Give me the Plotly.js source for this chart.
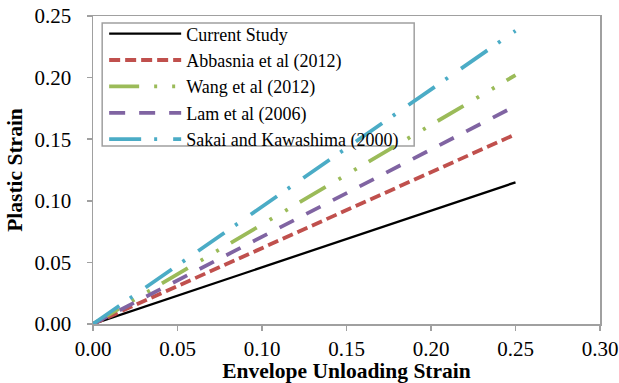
<!DOCTYPE html>
<html>
<head>
<meta charset="utf-8">
<script src="https://cdn.plot.ly/plotly-3.0.1.min.js"></script>
<style>
html,body{margin:0;padding:0;background:#fff;}
#chart{width:619px;height:383px;}
</style>
</head>
<body>
<div id="chart"></div>
<script>
// Data
const seriesNames = ["Current Study", "Abbasnia et al (2012)", "Wang et al (2012)", "Lam et al (2006)", "Sakai and Kawashima (2000)"];
const xStrain = [0.0, 0.25];
const currentStudy = [0.0, 0.115];
const abbasnia = [0.0, 0.154];
const wang = [0.0, 0.202];
const lam = [0.0, 0.177];
const sakai = [0.0, 0.238];
const xTicks = [0.00, 0.05, 0.10, 0.15, 0.20, 0.25, 0.30];
const yTicks = [0.00, 0.05, 0.10, 0.15, 0.20, 0.25];

const colors = ["#000000", "#c0504d", "#9bbb59", "#8064a2", "#4bacc6"];
const dashes = ["solid", "11px,5px", "30px,15px,3px,15px,3px,14px", "16px,14px", "32px,13px,3px,16px"];
const widths = [2.3, 3.8, 3.8, 3.8, 3.8];
const ys = [currentStudy, abbasnia, wang, lam, sakai];

const traces = ys.map((y, i) => ({
  type: "scatter",
  mode: "lines",
  x: xStrain,
  y: y,
  name: seriesNames[i],
  line: {color: colors[i], width: widths[i], dash: dashes[i]}
}));

const fmt = v => v.toFixed(2);
const axisColor = "#a0a0a0";
const serif = "Liberation Serif, Times New Roman, serif";
const tickFont = {family: serif, size: 21, color: "#000"};
const titleFont = {family: serif, size: 21.5, color: "#000", weight: "bold"};

const layout = {
  width: 619,
  height: 383,
  margin: {l: 92.5, r: 19, t: 16, b: 59},
  paper_bgcolor: "#fff",
  plot_bgcolor: "#fff",
  showlegend: true,
  legend: {
    x: 0.022, y: 1.002, xanchor: "left", yanchor: "top",
    bgcolor: "rgba(0,0,0,0)",
    borderwidth: 0,
    font: {family: serif, size: 18, color: "#000"},
    itemwidth: 72,
    tracegroupgap: 0
  },
  shapes: [{
    type: "rect", xref: "paper", yref: "paper",
    x0: 0.0181, x1: 0.6335, y0: 0.578, y1: 0.977,
    line: {color: axisColor, width: 1.5},
    fillcolor: "rgba(0,0,0,0)",
    layer: "below"
  }],
  xaxis: {
    range: [0, 0.30],
    tickvals: xTicks,
    ticktext: xTicks.map(fmt),
    ticks: "outside", ticklen: 5, tickwidth: 1.5, tickcolor: axisColor,
    showline: true, linecolor: axisColor, linewidth: 1.5, mirror: true,
    showgrid: false, zeroline: false,
    tickfont: tickFont,
    title: {text: "Envelope Unloading Strain", font: titleFont, standoff: 0},
    automargin: false
  },
  yaxis: {
    range: [0, 0.25],
    tickvals: yTicks,
    ticktext: yTicks.map(fmt),
    ticks: "outside", ticklen: 5, tickwidth: 1.5, tickcolor: axisColor,
    ticklabelstandoff: 11,
    showline: true, linecolor: axisColor, linewidth: 1.5, mirror: true,
    showgrid: false, zeroline: false,
    tickfont: tickFont,
    title: {text: "Plastic Strain", font: titleFont, standoff: 6},
    automargin: false
  },
  xaxis2: {
    overlaying: "x", anchor: "y", side: "bottom",
    range: [0, 0.30], tickvals: xTicks,
    ticks: "inside", ticklen: 5, tickwidth: 1.5, tickcolor: axisColor,
    showticklabels: false, showline: false, showgrid: false, zeroline: false
  },
  yaxis2: {
    overlaying: "y", anchor: "x", side: "left",
    range: [0, 0.25], tickvals: yTicks,
    ticks: "inside", ticklen: 5, tickwidth: 1.5, tickcolor: axisColor,
    showticklabels: false, showline: false, showgrid: false, zeroline: false
  }
};

Plotly.newPlot("chart", traces, layout, {displayModeBar: false, staticPlot: true});
</script>
</body>
</html>
